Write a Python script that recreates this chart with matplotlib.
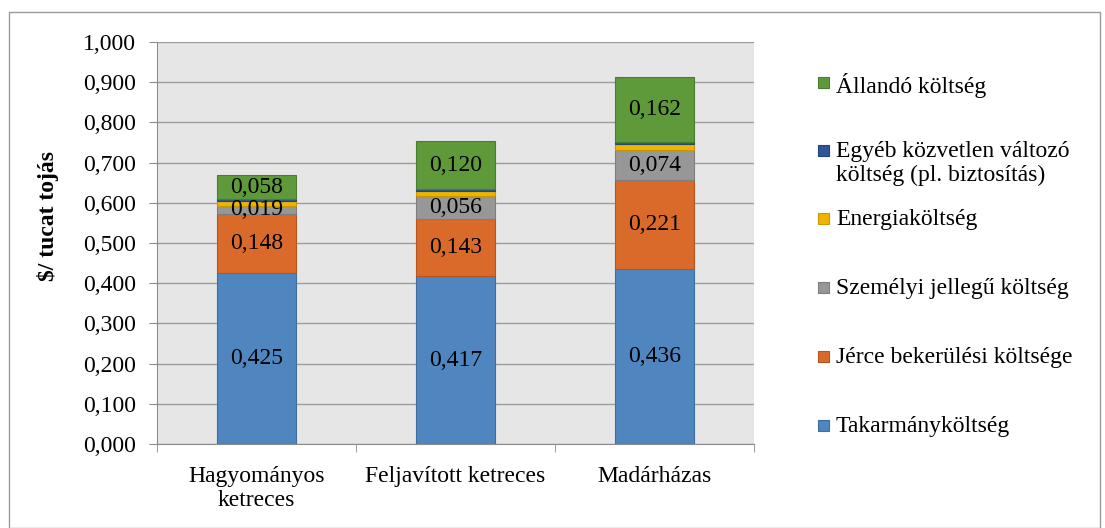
import numpy as np
import matplotlib
matplotlib.use("Agg")
import matplotlib.pyplot as plt
from matplotlib.ticker import FuncFormatter, FixedLocator
from matplotlib.patches import Rectangle

plt.rcParams['font.family'] = ['Liberation Serif', 'DejaVu Serif']
plt.rcParams['font.size'] = 17

# Data
categories = ["Hagyományos\nketreces", "Feljavított ketreces", "Madárházas"]
series_names = ["Takarmányköltség", "Jérce bekerülési költsége", "Személyi jellegű költség",
                "Energiaköltség", "Egyéb közvetlen változó\nköltség (pl. biztosítás)", "Állandó költség"]
takarmany = [0.425, 0.417, 0.436]
jerce = [0.148, 0.143, 0.221]
szemelyi = [0.019, 0.056, 0.074]
energia = [0.013, 0.013, 0.015]
egyeb = [0.005, 0.005, 0.005]
allando = [0.058, 0.120, 0.162]
labelled = [True, True, True, False, False, True]

colors = ["#4F86BF", "#DA6A2A", "#979797", "#EEB500", "#2F559A", "#5E9A3A"]
edges = ["#3E6E9E", "#B4561E", "#7E7E7E", "#C89600", "#24447C", "#4A7D2D"]

W, H = 1105, 528
fig = plt.figure(figsize=(W / 100, H / 100), dpi=100)
ax = fig.add_axes([157/W, 1 - 444/H, (754 - 157)/W, (444 - 42)/H])

# outer chart border
fig.patches.append(Rectangle((9/W, 0), (1100 - 9)/W, 1 - 12/H, transform=fig.transFigure,
                             fill=False, edgecolor="#9A9A9A", linewidth=1.0, clip_on=False))

ax.set_facecolor("#E6E6E6")
x = np.arange(len(categories))
bottom = np.zeros(len(categories))
series = [takarmany, jerce, szemelyi, energia, egyeb, allando]
for vals, name, c, ec, lab in zip(series, series_names, colors, edges, labelled):
    vals = np.array(vals)
    ax.bar(x, vals, 0.4, bottom=bottom, color=c, edgecolor=ec, linewidth=0.8,
           label=name, zorder=3)
    if lab:
        for xi, b, v in zip(x, bottom, vals):
            ax.text(xi, b + v / 2, f"{v:.3f}".replace(".", ","), ha="center", va="center",
                    fontsize=17, zorder=4)
    bottom += vals

ax.set_xlim(-0.5, 2.5)
ax.set_ylim(0, 1.0)
ax.set_yticks(np.arange(0, 1.01, 0.1))
ax.yaxis.set_major_formatter(FuncFormatter(lambda v, p: f"{v:.3f}".replace(".", ",")))
ax.yaxis.grid(True, color="#9C9C9C", linewidth=1.0, zorder=1)
ax.set_axisbelow(True)

ax.set_xticks(x)
ax.set_xticklabels(categories, linespacing=1.2)
ax.xaxis.set_minor_locator(FixedLocator([-0.5, 0.5, 1.5, 2.5]))
ax.tick_params(axis="x", which="major", length=0, pad=16, labelsize=17)
ax.tick_params(axis="x", which="minor", length=6, color="#8C8C8C", direction="out")
ax.tick_params(axis="y", length=6, color="#8C8C8C", direction="out", pad=9, labelsize=17)

for s in ["top", "right"]:
    ax.spines[s].set_visible(False)
for s in ["left", "bottom"]:
    ax.spines[s].set_color("#8C8C8C")

fig.text(48/W, 1 - 216/H, "$/ tucat tojás", rotation=90, ha="center", va="center",
         fontsize=17, fontweight="bold")

# legend, drawn entry by entry (Excel-like spacing)
leg_y = [425, 356, 287, 218, 150, 82]   # first-line centre of each entry, px from top
for name, c, ec, yy in zip(series_names, colors, edges, leg_y):
    fig.patches.append(Rectangle((818/W, 1 - (yy + 6)/H), 11/W, 11/H, transform=fig.transFigure,
                                 facecolor=c, edgecolor=ec, linewidth=0.8))
    fig.text(836/W, 1 - (yy - 9)/H, name, ha="left", va="top", fontsize=17, linespacing=1.2)

fig.savefig("out.png", dpi=100)
